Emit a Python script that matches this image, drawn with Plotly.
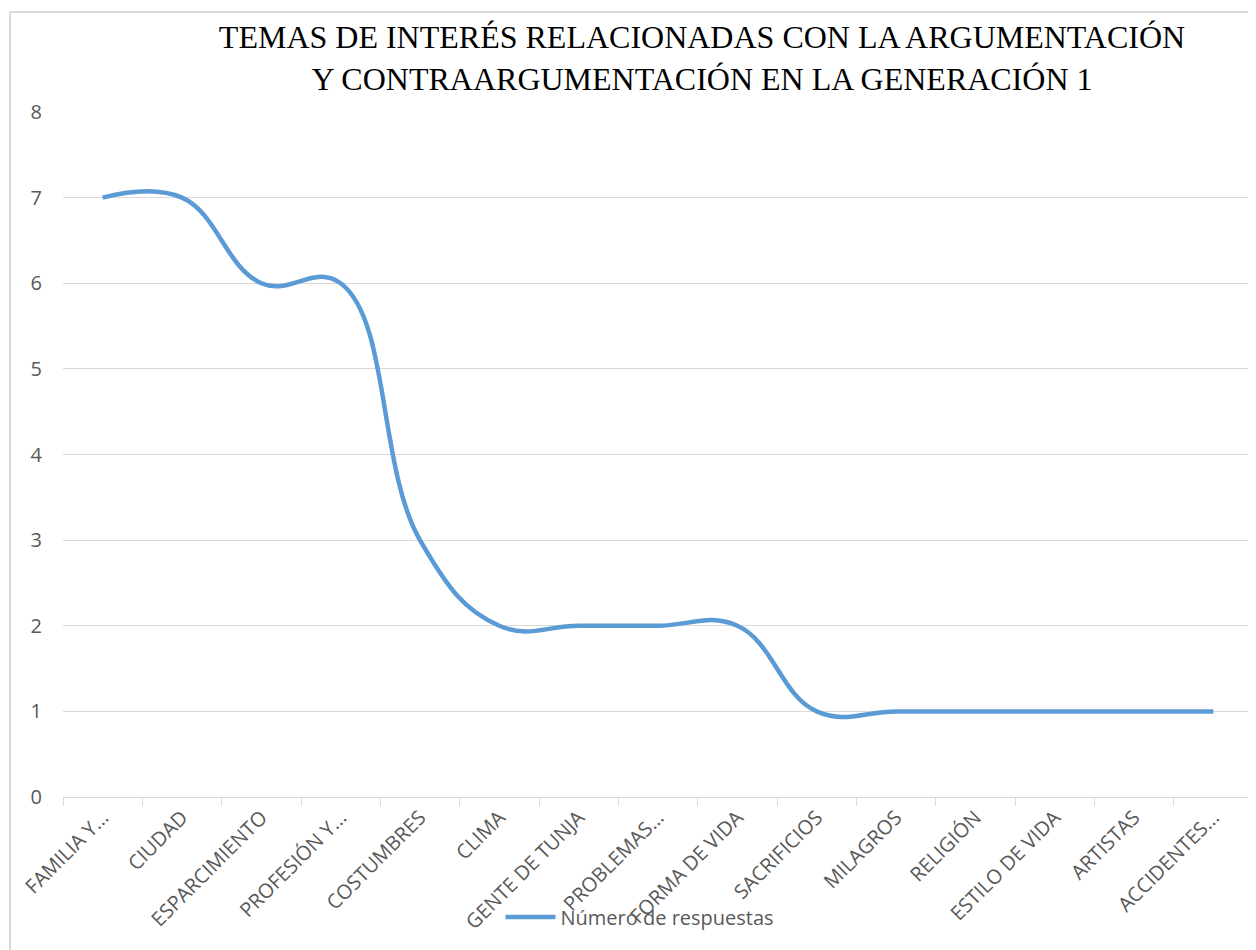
import plotly.graph_objects as go

categories = ["FAMILIA Y...", "CIUDAD", "ESPARCIMIENTO", "PROFESIÓN Y...", "COSTUMBRES",
              "CLIMA", "GENTE DE TUNJA", "PROBLEMAS...", "FORMA DE VIDA", "SACRIFICIOS",
              "MILAGROS", "RELIGIÓN", "ESTILO DE VIDA", "ARTISTAS", "ACCIDENTES..."]
values = [7, 7, 6, 6, 3, 2, 2, 2, 2, 1, 1, 1, 1, 1, 1]
series_name = "Número de respuestas"
title_text = "TEMAS DE INTERÉS RELACIONADAS CON LA ARGUMENTACIÓN<br>Y CONTRAARGUMENTACIÓN EN LA GENERACIÓN 1"

OFF = 8  # page body margin
W, H = 1256 - OFF, 950 - OFF
# plot area in page coordinates: x 63..1253, y 112..797
L, R, T, B = 63 - OFF, 3, 112 - OFF, H - (797 - OFF)
pw, ph = W - L - R, H - T - B

def px(x):
    return (x - OFF - L) / pw

def py(y):
    return (H - B - (y - OFF)) / ph

fig = go.Figure()
fig.add_trace(go.Scatter(
    x=categories, y=values, name=series_name, mode="lines",
    line=dict(color="#5B9BD5", width=4.5, shape="spline", smoothing=1.2),
    showlegend=True,
))

fig.update_layout(
    width=W, height=H,
    margin=dict(l=L, r=R, t=T, b=B, autoexpand=False),
    paper_bgcolor="white", plot_bgcolor="white",
    title=dict(text=title_text, x=px(702), xref="paper", xanchor="center",
               y=1 - (48 - OFF) / H, yref="container", yanchor="middle",
               font=dict(family="Liberation Serif", size=32, color="black")),
    font=dict(family="Open Sans", color="#595959"),
    legend=dict(orientation="h", x=px(640), xanchor="center", y=py(917), yanchor="middle",
                bgcolor="rgba(0,0,0,0)", font=dict(size=20, color="#595959"),
                itemwidth=50),
    xaxis=dict(type="category", range=[-0.5, len(categories) - 0.5],
               tickson="boundaries", ticks="outside", ticklen=8, tickcolor="#d9d9d9",
               showgrid=False, showline=True, linecolor="#d9d9d9", linewidth=1,
               tickangle=-45, tickfont=dict(size=20, color="#595959"),
               automargin=False),
    yaxis=dict(range=[0, 8], dtick=1, showgrid=True, gridcolor="#d9d9d9", gridwidth=1,
               zeroline=False, showline=False, tickfont=dict(size=20, color="#595959"),
               ticklabelstandoff=20, automargin=False),
)

fig.add_shape(type="line", xref="paper", yref="paper",
              x0=px(10), x1=px(10), y0=py(12), y1=py(960),
              line=dict(color="#d9d9d9", width=2))
fig.add_shape(type="line", xref="paper", yref="paper",
              x0=px(10), x1=px(1260), y0=py(12), y1=py(12),
              line=dict(color="#d9d9d9", width=2))

fig.write_html("out.html")
